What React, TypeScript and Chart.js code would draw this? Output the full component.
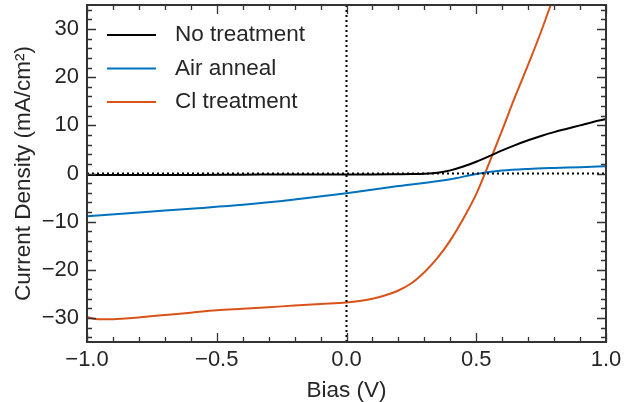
import React, { useEffect, useRef } from "react";
import { Chart, registerables } from "chart.js";

Chart.register(...registerables);

const noTreatX = [-1.0, -0.8, -0.6, -0.4, -0.2, 0.0, 0.1, 0.2, 0.25, 0.3, 0.35, 0.4, 0.45, 0.5, 0.55, 0.6, 0.65, 0.7, 0.75, 0.8, 0.85, 0.9, 0.95, 1.0];
const noTreatY = [-0.3, -0.3, -0.3, -0.25, -0.2, -0.2, -0.2, -0.15, -0.12, -0.05, 0.15, 0.65, 1.45, 2.45, 3.6, 4.8, 5.9, 6.9, 7.8, 8.6, 9.3, 10.0, 10.7, 11.3];

const airX = [-1.0, -0.8, -0.6, -0.4, -0.2, 0.0, 0.2, 0.4, 0.5, 0.6, 0.7, 0.8, 0.9, 1.0];
const airY = [-8.9, -8.1, -7.3, -6.5, -5.4, -4.1, -2.6, -1.2, -0.1, 0.6, 0.95, 1.15, 1.3, 1.5];

const clX = [-1.0, -0.97, -0.93, -0.9, -0.8, -0.7, -0.6, -0.5, -0.4, -0.3, -0.2, -0.1, 0.0, 0.05, 0.1, 0.15, 0.2, 0.25, 0.3, 0.35, 0.4, 0.45, 0.5, 0.55, 0.6, 0.65, 0.7, 0.75, 0.8];
const clY = [-29.8, -30.2, -30.3, -30.25, -29.9, -29.4, -28.9, -28.4, -28.1, -27.8, -27.4, -27.1, -26.8, -26.5, -26.0, -25.3, -24.3, -22.8, -20.5, -17.6, -13.9, -9.4, -4.3, 2.2, 9.0, 16.0, 22.6, 29.5, 37.0];

const seriesLabels = ["No treatment", "Air anneal", "Cl treatment"];
const seriesColors = ["#000000", "#0072BD", "#D95319"];

const xTicks = [-1.0, -0.5, 0.0, 0.5, 1.0];
const xMinorTicks = [-0.9, -0.8, -0.7, -0.6, -0.4, -0.3, -0.2, -0.1, 0.1, 0.2, 0.3, 0.4, 0.6, 0.7, 0.8, 0.9];
const yTicks = [-30, -20, -10, 0, 10, 20, 30];
const yMinorTicks = [-34, -32, -28, -26, -24, -22, -18, -16, -14, -12, -8, -6, -4, -2, 2, 4, 6, 8, 12, 14, 16, 18, 22, 24, 26, 28, 32, 34];

const FONT = "'Liberation Sans', Arial, sans-serif";
const TEXT = "#262626";
const FRAME = "#333333";
const FS = 22.5;

const fmt = (v: number, d: number) => (v < 0 ? "\u2212" + Math.abs(v).toFixed(d) : v.toFixed(d));

const framePlugin = {
  id: "frame",
  afterDatasetsDraw(chart: any) {
    const { ctx, chartArea: a, scales } = chart;
    const xs = scales.x, ys = scales.y;
    ctx.save();
    ctx.strokeStyle = "#000";
    ctx.lineWidth = 2;
    ctx.setLineDash([2, 3]);
    const y0 = ys.getPixelForValue(0);
    const x0 = xs.getPixelForValue(0);
    ctx.beginPath();
    ctx.moveTo(a.left, y0);
    ctx.lineTo(a.right, y0);
    ctx.moveTo(x0, a.top);
    ctx.lineTo(x0, a.bottom);
    ctx.stroke();
    ctx.setLineDash([]);
    ctx.strokeStyle = FRAME;
    ctx.lineWidth = 1.3;
    const drawX = (vals: number[], len: number) => {
      for (const v of vals) {
        const px = Math.round(xs.getPixelForValue(v)) + 0.5;
        ctx.beginPath();
        ctx.moveTo(px, a.bottom);
        ctx.lineTo(px, a.bottom - len);
        ctx.moveTo(px, a.top);
        ctx.lineTo(px, a.top + len);
        ctx.stroke();
      }
    };
    const drawY = (vals: number[], len: number) => {
      for (const v of vals) {
        const py = Math.round(ys.getPixelForValue(v)) + 0.5;
        ctx.beginPath();
        ctx.moveTo(a.left, py);
        ctx.lineTo(a.left + len, py);
        ctx.moveTo(a.right, py);
        ctx.lineTo(a.right - len, py);
        ctx.stroke();
      }
    };
    drawX(xTicks, 9);
    drawX(xMinorTicks, 5);
    drawY(yTicks, 9);
    drawY(yMinorTicks, 5);
    ctx.lineWidth = 2;
    ctx.strokeRect(a.left, a.top, a.right - a.left, a.bottom - a.top);
    ctx.font = `${FS}px ${FONT}`;
    ctx.textBaseline = "middle";
    ctx.textAlign = "left";
    chart.data.datasets.forEach((ds: any, i: number) => {
      const ly = a.top + 30 + i * 33.5;
      ctx.strokeStyle = ds.borderColor;
      ctx.lineWidth = 2;
      ctx.beginPath();
      ctx.moveTo(a.left + 20, ly);
      ctx.lineTo(a.left + 69, ly);
      ctx.stroke();
      ctx.fillStyle = TEXT;
      ctx.fillText(ds.label, a.left + 88, ly);
    });
    ctx.restore();
  },
};

export default function App() {
  const ref = useRef<HTMLCanvasElement>(null);
  useEffect(() => {
    document.body.style.margin = "0";
    const mk = (xa: number[], ya: number[]) => xa.map((x, i) => ({ x, y: ya[i] }));
    const data = [mk(noTreatX, noTreatY), mk(airX, airY), mk(clX, clY)];
    const chart = new Chart(ref.current as HTMLCanvasElement, {
      type: "line",
      data: {
        datasets: data.map((d, i) => ({
          label: seriesLabels[i],
          data: d,
          borderColor: seriesColors[i],
          backgroundColor: seriesColors[i],
          borderWidth: 2,
          pointRadius: 0,
          cubicInterpolationMode: "monotone" as const,
          fill: false,
        })),
      },
      options: {
        animation: false,
        responsive: false,
        devicePixelRatio: 1,
        layout: { padding: { top: 5, right: 29, left: 0, bottom: 0 } },
        plugins: { legend: { display: false }, tooltip: { enabled: false } },
        scales: {
          x: {
            type: "linear",
            min: -1,
            max: 1,
            grid: { display: false, drawTicks: false },
            border: { display: false },
            afterBuildTicks: (s: any) => {
              s.ticks = xTicks.map((v) => ({ value: v }));
            },
            afterFit: (s: any) => {
              s.height = 60;
              s.paddingLeft = 0;
              s.paddingRight = 0;
            },
            ticks: {
              padding: 5,
              color: TEXT,
              font: { family: FONT, size: 22 },
              maxRotation: 0,
              callback: (v: any) => fmt(Number(v), 1),
            },
            title: {
              display: true,
              text: "Bias (V)",
              color: TEXT,
              font: { family: FONT, size: FS, lineHeight: 1 },
              padding: { top: 0, bottom: 0 },
            },
          },
          y: {
            type: "linear",
            min: -35,
            max: 35,
            grid: { display: false, drawTicks: false },
            border: { display: false },
            afterBuildTicks: (s: any) => {
              s.ticks = yTicks.map((v) => ({ value: v }));
            },
            afterFit: (s: any) => {
              s.width = 87;
              s.paddingTop = 0;
              s.paddingBottom = 0;
            },
            ticks: {
              padding: 8,
              color: TEXT,
              font: { family: FONT, size: 22 },
              callback: (v: any) => fmt(Number(v), 0),
            },
            title: {
              display: true,
              text: "Current Density (mA/cm\u00b2)",
              color: TEXT,
              font: { family: FONT, size: FS, lineHeight: 1 },
              padding: { top: 13, bottom: 0 },
            },
          },
        },
      },
      plugins: [framePlugin],
    });
    return () => chart.destroy();
  }, []);
  return <canvas ref={ref} width={635} height={402} style={{ display: "block" }} />;
}
